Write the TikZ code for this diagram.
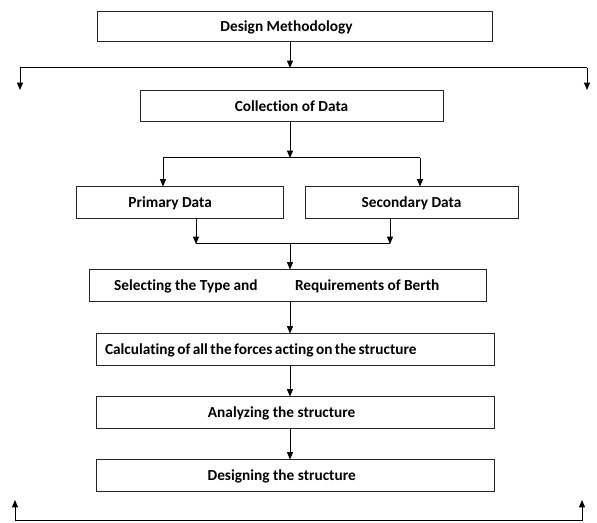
\documentclass[tikz,border=0pt]{standalone}
\usepackage{fontspec}
\setmainfont{Carlito}[Ligatures=NoCommon]
\usetikzlibrary{arrows.meta}
\tikzset{every picture/.style={line width=0.75pt}}
\tikzset{stepbox/.style={rectangle, draw=black!85, inner sep=0pt, minimum height=24pt}}

\begin{document}
\begin{tikzpicture}[x=0.75pt, y=-0.75pt, >={Triangle[length=5.5pt,width=4.5pt]}, every node/.style={font=\bfseries\fontsize{11.5}{13}\selectfont}]
        \useasboundingbox (0,0) rectangle (597,523);
        % caixas
        \node[stepbox, minimum width=296.25pt, minimum height=22.5pt] (dm) at (294.5,27) {Design Methodology\hspace*{12pt}};
        \node[stepbox, minimum width=227.25pt, minimum height=23.25pt] (cd) at (291.5,106.5) {Collection of Data};
        \node[stepbox, minimum width=155.25pt] (pd) at (179.5,203) {Primary Data\hspace*{14pt}};
        \node[stepbox, minimum width=159.75pt] (sd) at (411.5,203) {Secondary Data};
        \node[stepbox, minimum width=297.75pt] (st) at (287.5,286) {Selecting the Type and\hspace{28pt}Requirements of Berth\hspace*{16pt}};
        \node[stepbox, text width=285pt, inner xsep=6.75pt, align=left] (cf) at (295,350) {\spaceskip=0.16em Calculating of all the forces acting on the structure};
        \node[stepbox, minimum width=298.5pt] (as) at (295,413) {Analyzing the structure\hspace*{20pt}};
        \node[stepbox, minimum width=298.5pt] (ds) at (295,476) {Designing the structure\hspace*{20pt}};
        % pontos de junção
        \coordinate (t0) at (290,68);
        \coordinate (tl) at (20,68);
        \coordinate (tr) at (587,68);
        \coordinate (tla) at (20,90);
        \coordinate (tra) at (587,90);
        \coordinate (j1) at (290,158);
        \coordinate (j1l) at (163,158);
        \coordinate (j1r) at (420,158);
        \coordinate (j2) at (290,244);
        \coordinate (j2l) at (196,244);
        \coordinate (j2r) at (390,244);
        \coordinate (bl) at (15,521);
        \coordinate (br) at (582,521);
        \coordinate (blt) at (15,500);
        \coordinate (brt) at (582,500);
        % ligações
        \draw[->] (dm.south -| t0) -- (t0);
        \draw (tl) -- (tr);
        \draw[->] (tl) -- (tla); \draw[->] (tr) -- (tra);
        \draw[->] (cd.south -| j1) -- (j1);
        \draw (j1l) -- (j1r);
        \draw[->] (j1l) -- (pd.north -| j1l); \draw[->] (j1r) -- (sd.north -| j1r);
        \draw[->] (pd.south -| j2l) -- (j2l); \draw[->] (sd.south -| j2r) -- (j2r);
        \draw (j2l) -- (j2r);
        \draw[->] (j2) -- (st.north -| j2);
        \draw[->] (st.south -| j2) -- (cf.north -| j2);
        \draw[->] (cf.south -| j2) -- (as.north -| j2);
        \draw[->] (as.south -| j2) -- (ds.north -| j2);
        \draw (bl) -- (br);
        \draw[->] (bl) -- (blt); \draw[->] (br) -- (brt);
    \end{tikzpicture}
\end{document}
